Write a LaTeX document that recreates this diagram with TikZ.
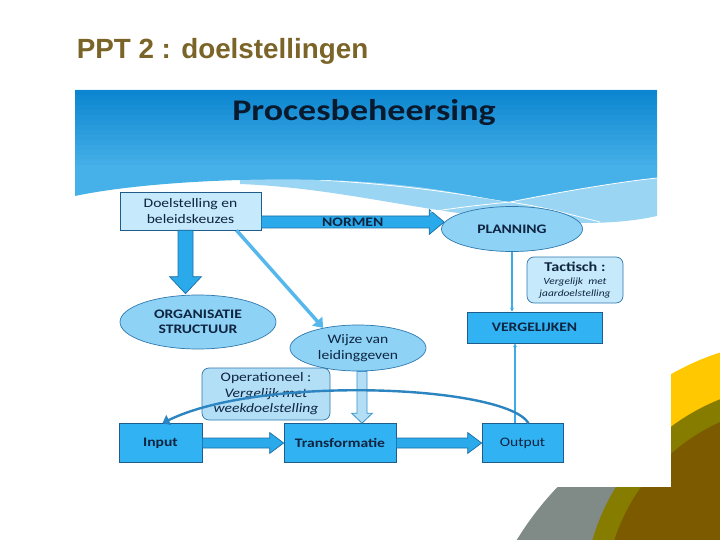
\documentclass[tikz,border=0pt]{standalone}
\usepackage{fontspec}
\setmainfont{Carlito}[FakeStretch=1.2]
\newfontfamily\pptfont{Liberation Sans}
\usetikzlibrary{shapes.geometric,arrows.meta,calc}

\definecolor{pptbrown}{HTML}{7A6428}
\definecolor{headtop}{RGB}{12,134,208}
\definecolor{headbot}{RGB}{70,176,232}
\definecolor{bandblue}{HTML}{9AD5F3}
\definecolor{titleink}{HTML}{0A1A2E}
\definecolor{inkblue}{HTML}{0E2440}
\definecolor{edgeblue}{HTML}{1F5C8A}
\definecolor{boxblue}{HTML}{31B3F3}
\definecolor{paleblue}{HTML}{C6E9FB}
\definecolor{ovalblue}{HTML}{8ED3F6}
\definecolor{ovaledge}{HTML}{2E78AD}
\definecolor{arrowfill}{HTML}{2AA9EB}
\definecolor{arrowedge}{HTML}{1C6FA8}
\definecolor{hollowfill}{HTML}{B3DFF6}
\definecolor{hollowedge}{HTML}{3E92C7}
\definecolor{thinblue}{HTML}{3BAAE6}
\definecolor{slantblue}{HTML}{55B8EC}
\definecolor{curveblue}{HTML}{2C84C0}
\definecolor{decoyellow}{HTML}{FFC800}
\definecolor{decoolive}{HTML}{857C00}
\definecolor{decobrown}{HTML}{7C5B00}
\definecolor{decogray}{HTML}{808B87}

\newcommand{\boxfont}{\fontsize{13}{15.5}\selectfont}

\begin{document}
\begin{tikzpicture}[x=1pt,y=-1pt,
  every node/.style={inner sep=0pt, align=center, text=inkblue, font=\boxfont},
  fullbox/.style={draw=edgeblue, fill=boxblue, line width=0.7pt},
  palebox/.style={draw=edgeblue, fill=paleblue, line width=0.7pt},
  notebox/.style={draw=ovaledge, fill=#1, line width=0.7pt, rounded corners=7pt},
  oval/.style={ellipse, draw=ovaledge, fill=ovalblue, line width=0.7pt},
  blockarr/.style={draw=arrowedge, fill=arrowfill, line width=0.7pt},
  hollowarr/.style={draw=hollowedge, fill=hollowfill, line width=0.8pt},
  thinarr/.style={draw=thinblue, line width=1.1pt, -{Stealth[length=4pt,width=4pt]}},
]
\fill[white] (0,0) rectangle (720,540);
\useasboundingbox (0,0) rectangle (720,540);

% corner decoration
\fill[decoyellow] (800,600) circle (260);
\begin{scope}
\clip (0,0) rectangle (650,540);
\fill[decogray] (780,700) circle (308);
\end{scope}
\fill[decoolive] (800,600) circle (216);
\fill[decobrown] (800,600) circle (195);
\fill[white] (480,300) rectangle (671,487);

% light swoosh under the header
\fill[bandblue] (240,184) .. controls (340,188) and (420,212) .. (520,220)
  .. controls (590,226) and (630,222) .. (657,216) -- (657,150) -- (240,150) -- cycle;
\draw[white, line width=0.8pt] (320,180) .. controls (420,186) and (470,196) .. (510,202)
  .. controls (550,208) and (575,216) .. (600,222);

\node[font=\pptfont\fontsize{27.8}{32}\selectfont\bfseries, text=pptbrown] (ppt) at (222.5,51) {PPT 2 : doelstellingen};

% boxes
\node[palebox, minimum width=141pt, minimum height=38pt] (doel) at (190.5,211) {Doelstelling en\\beleidskeuzes};
\node[oval, minimum width=141pt, minimum height=45pt, font=\boxfont\bfseries] (plan) at (512,229) {PLANNING};
\node[notebox=paleblue, minimum width=96pt, minimum height=46pt, font=\fontsize{9.5}{12}\selectfont\itshape] (tact) at (575,280)
  {{\fontsize{13.5}{15}\selectfont\upshape\bfseries Tactisch :}\\[1pt]Vergelijk~~met\\jaardoelstelling};
\node[fullbox, minimum width=135pt, minimum height=31pt, font=\boxfont\bfseries] (verg) at (534.5,327.5) {VERGELIJKEN};
\node[oval, minimum width=156pt, minimum height=54pt, font=\boxfont\bfseries] (org) at (198,322) {ORGANISATIE\\STRUCTUUR};
\node[oval, minimum width=136pt, minimum height=46pt] (wijze) at (358,348) {Wijze van\\leidinggeven};
\node[notebox=hollowfill, minimum width=128pt, minimum height=52pt] (oper) at (266,394)
  {Operationeel :\\\textit{Vergelijk met}\\\textit{weekdoelstelling}};
\node[fullbox, minimum width=83pt, minimum height=39pt, font=\boxfont\bfseries] (input) at (160.5,443) {Input};
\node[fullbox, minimum width=112pt, minimum height=39pt, font=\boxfont\bfseries] (trans) at (340,443) {Transformatie};
\node[fullbox, minimum width=81pt, minimum height=39pt] (output) at (522.5,443) {Output};

% block arrows
\coordinate (n1) at ([yshift=-11pt]doel.east);
\coordinate (n2) at ($(plan.west)+(3,-7)$);
\draw[blockarr] ($(n1)+(0,-6)$) -- ($(n2)+(-15,-6)$) -- ($(n2)+(-15,-12.5)$) -- (n2)
  -- ($(n2)+(-15,12.5)$) -- ($(n2)+(-15,6)$) -- ($(n1)+(0,6)$) -- cycle;
\node[font=\boxfont\bfseries] (normen) at ($(n1)!0.5!(n2)$) {NORMEN};

\coordinate (d1) at ([xshift=-5pt]doel.south);
\coordinate (d2) at ($(org.north)+(-12.5,-1)$);
\draw[blockarr] ($(d1)+(-7.5,0)$) -- ($(d2)+(-7.5,-17)$) -- ($(d2)+(-16,-17)$) -- (d2)
  -- ($(d2)+(16,-17)$) -- ($(d2)+(7.5,-17)$) -- ($(d1)+(7.5,0)$) -- cycle;

\draw[blockarr] ($(input.east)+(0,-5)$) -- ($(trans.west)+(-14,-5)$) -- ($(trans.west)+(-14,-10.5)$) -- (trans.west)
  -- ($(trans.west)+(-14,10.5)$) -- ($(trans.west)+(-14,5)$) -- ($(input.east)+(0,5)$) -- cycle;
\draw[blockarr] ($(trans.east)+(0,-5)$) -- ($(output.west)+(-14,-5)$) -- ($(output.west)+(-14,-10.5)$) -- (output.west)
  -- ($(output.west)+(-14,10.5)$) -- ($(output.west)+(-14,5)$) -- ($(trans.east)+(0,5)$) -- cycle;

\coordinate (h1) at ([xshift=4pt]wijze.south);
\coordinate (h2) at (h1 |- trans.north);
\draw[hollowarr] ($(h1)+(-5,0)$) -- ($(h2)+(-5,-10)$) -- ($(h2)+(-10.5,-10)$) -- (h2)
  -- ($(h2)+(10.5,-10)$) -- ($(h2)+(5,-10)$) -- ($(h1)+(5,0)$) -- cycle;

% thin connectors
\draw[slantblue, line width=3.5pt, -{Triangle[width=13pt,length=9pt]}] ([xshift=46pt]doel.south) -- (wijze.150);
\draw[thinarr] (plan.south) -- (plan.south |- verg.north);
\draw[thinarr] ([xshift=-7.5pt]output.north) -- ([xshift=-7.5pt]output.north |- verg.south);
\draw[curveblue, line width=2.4pt, -{Triangle[width=11pt,length=7pt]}] ([xshift=6pt]output.north)
  .. controls (505,385) and (260,375) .. ([xshift=2pt]input.north);

% slide header, drawn last
\fill[headbot] (75,196) .. controls (150,180) and (300,174) .. (400,185)
  .. controls (450,190) and (480,198) .. (510,202) .. controls (550,194) and (610,183) .. (657,178)
  -- (657,90) -- (75,90) -- cycle;
\foreach \i in {0,...,15} {
  \pgfmathtruncatemacro\mix{100-\i*100/15}
  \fill[headtop!\mix!headbot] (75,90+\i*5) rectangle (657,95.6+\i*5);
}
\draw[white, line width=0.8pt] (430,212) .. controls (460,207) and (490,204) .. (510,202)
  .. controls (550,194) and (610,183) .. (657,178);
\node[font=\fontsize{30}{36}\selectfont\bfseries, text=titleink] (head) at (364,113) {Procesbeheersing};
\end{tikzpicture}
\end{document}
